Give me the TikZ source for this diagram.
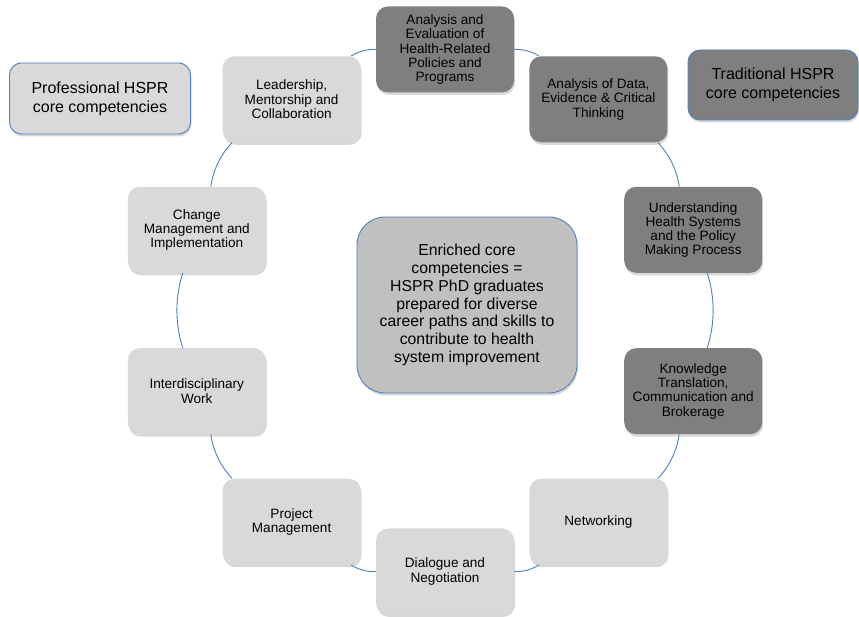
\documentclass[tikz,border=0pt]{standalone}
\usepackage{fontspec}
\setmainfont{Liberation Sans}
\usetikzlibrary{shadows}
\definecolor{ringblue}{HTML}{4F81BD}
\definecolor{darkfill}{HTML}{7F7F7F}
\definecolor{lightfill}{HTML}{D9D9D9}
\definecolor{hubfill}{HTML}{C0C0C0}
\tikzset{
  ringbox/.style={rounded corners=12pt, minimum width=138pt, minimum height=86pt,
    inner sep=2pt, align=center, font=\fontsize{13.6}{14.2}\selectfont,
    drop shadow={shadow xshift=1pt, shadow yshift=-2.5pt, opacity=0.3}},
  darkbox/.style={ringbox, fill=darkfill},
  lightbox/.style={ringbox, fill=lightfill},
  legendbox/.style={rounded corners=12pt, draw=ringblue, line width=0.9pt,
    align=center, font=\fontsize{16}{19}\selectfont,
    drop shadow={shadow xshift=1pt, shadow yshift=-2.5pt, opacity=0.3}},
  ringline/.style={draw=ringblue, line width=0.9pt, bend left=18, looseness=0.87}
}

\begin{document}
\begin{tikzpicture}[x=1pt, y=1pt]
			%%%%% START %%%%%
			
			\useasboundingbox[fill=white] (0, 0) rectangle (859, 617);
			
			\node[legendbox, fill=lightfill, minimum width=181pt, minimum height=71pt] (professional) at (100, 518.5) {Professional HSPR\\core competencies};
			\node[legendbox, fill=darkfill, minimum width=170pt, minimum height=70pt] (traditional) at (773, 532) {Traditional HSPR\\core competencies};
			
			\node[rounded corners=28pt, draw=ringblue, line width=0.9pt, fill=hubfill,
			  minimum width=220pt, minimum height=176pt, align=center,
			  font=\fontsize{15.8}{17.7}\selectfont,
			  drop shadow={shadow xshift=1pt, shadow yshift=-2.5pt, opacity=0.3}] (hub) at (467, 312)
			  {Enriched core\\competencies =\\HSPR PhD graduates\\prepared for diverse\\career paths and skills to\\contribute to health\\system improvement};
			
			\node[darkbox] (evaluation) at (445, 567.5) {Analysis and\\Evaluation of\\Health-Related\\Policies and\\Programs};
			\node[darkbox] (data) at (598.4, 517.7) {Analysis of Data,\\Evidence \& Critical\\Thinking};
			\node[darkbox] (systems) at (693.2, 387.2) {Understanding\\Health Systems\\and the Policy\\Making Process};
			\node[darkbox] (translation) at (693.2, 225.8) {Knowledge\\Translation,\\Communication and\\Brokerage};
			\node[lightbox] (networking) at (598.4, 95.3) {Networking};
			\node[lightbox] (dialogue) at (445, 45.5) {Dialogue and\\Negotiation};
			\node[lightbox] (project) at (291.6, 95.3) {Project\\Management};
			\node[lightbox] (interdisc) at (196.8, 225.8) {Interdisciplinary\\Work};
			\node[lightbox] (change) at (196.8, 387.2) {Change\\Management and\\Implementation};
			\node[lightbox] (leadership) at (291.6, 517.7) {Leadership,\\Mentorship and\\Collaboration};
			
			\draw[ringline] (evaluation) to (data);
			\draw[ringline] (data) to (systems);
			\draw[ringline] (systems) to (translation);
			\draw[ringline] (translation) to (networking);
			\draw[ringline] (networking) to (dialogue);
			\draw[ringline] (dialogue) to (project);
			\draw[ringline] (project) to (interdisc);
			\draw[ringline] (interdisc) to (change);
			\draw[ringline] (change) to (leadership);
			\draw[ringline] (leadership) to (evaluation);
			
			%%%%% END %%%%%
\end{tikzpicture}
\end{document}
